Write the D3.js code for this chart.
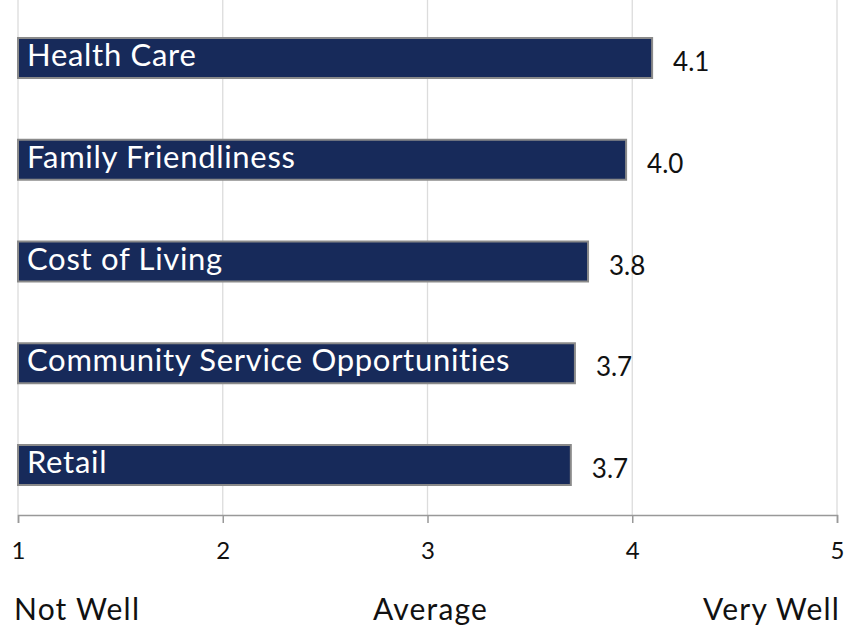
<!DOCTYPE html>
<html><head><meta charset="utf-8">
<script src="https://cdn.jsdelivr.net/npm/d3@7"></script>
<style>body{margin:0;background:#fff}</style>
</head><body><svg id="c" width="844" height="629"></svg>
<script>
const categories = ["Health Care","Family Friendliness","Cost of Living","Community Service Opportunities","Retail"];
const values = [4.097, 3.97, 3.784, 3.72, 3.70];
const valueLabels = ["4.1","4.0","3.8","3.7","3.7"];
const ticks = [1,2,3,4,5];
const bottomLabels = [{t:"Not Well",v:1,a:"start"},{t:"Average",v:3,a:"middle"},{t:"Very Well",v:5,a:"end"}];

const svg = d3.select("#c");
const font = "Lato, 'Open Sans', sans-serif";
const x = d3.scaleLinear().domain([1,5]).range([18,837]);
const y = d3.scaleBand().domain(categories).range([38,485]).paddingInner(0.607).paddingOuter(0);

svg.append("g").selectAll("line").data(ticks).join("line")
  .attr("x1",d=>x(d)).attr("x2",d=>x(d)).attr("y1",0).attr("y2",515)
  .attr("stroke","#dcdcdc").attr("stroke-width",1.3);

const ax = svg.append("g").attr("transform","translate(0,515)")
  .call(d3.axisBottom(x).tickValues(ticks).tickSize(8).tickPadding(12).tickFormat(d3.format("d")));
ax.select(".domain").attr("stroke","#999").attr("stroke-width",1.5);
ax.selectAll(".tick line").attr("stroke","#999").attr("stroke-width",1.5);
ax.selectAll(".tick text").attr("font-family",font).attr("font-size",24).attr("fill","#111").attr("dy","1.0em");

const g = svg.append("g");
g.selectAll("rect").data(categories).join("rect")
  .attr("x",x(1)).attr("y",d=>y(d)).attr("height",y.bandwidth())
  .attr("width",(d,i)=>x(values[i])-x(1))
  .attr("fill","#172a5a").attr("stroke","#8a8a8a").attr("stroke-width",2);
g.selectAll("text.cat").data(categories).join("text").attr("class","cat")
  .attr("x",27).attr("y",d=>y(d)+y.bandwidth()/2+8)
  .attr("font-family",font).attr("font-size",31).attr("letter-spacing",0.7).attr("fill","#fff").text(d=>d);
g.selectAll("text.val").data(categories).join("text").attr("class","val")
  .attr("x",(d,i)=>x(values[i])+21).attr("y",d=>y(d)+y.bandwidth()/2+13)
  .attr("font-family",font).attr("font-size",26).attr("fill","#111").text((d,i)=>valueLabels[i]);

svg.append("g").selectAll("text").data(bottomLabels).join("text")
  .attr("x",d=>d.a==="start"?x(d.v)-4:d.a==="end"?x(d.v)+3:x(d.v)+3).attr("y",620)
  .attr("text-anchor",d=>d.a).attr("font-family",font).attr("font-size",30).attr("fill","#111")
  .attr("letter-spacing",1.2).text(d=>d.t);
</script></body></html>
